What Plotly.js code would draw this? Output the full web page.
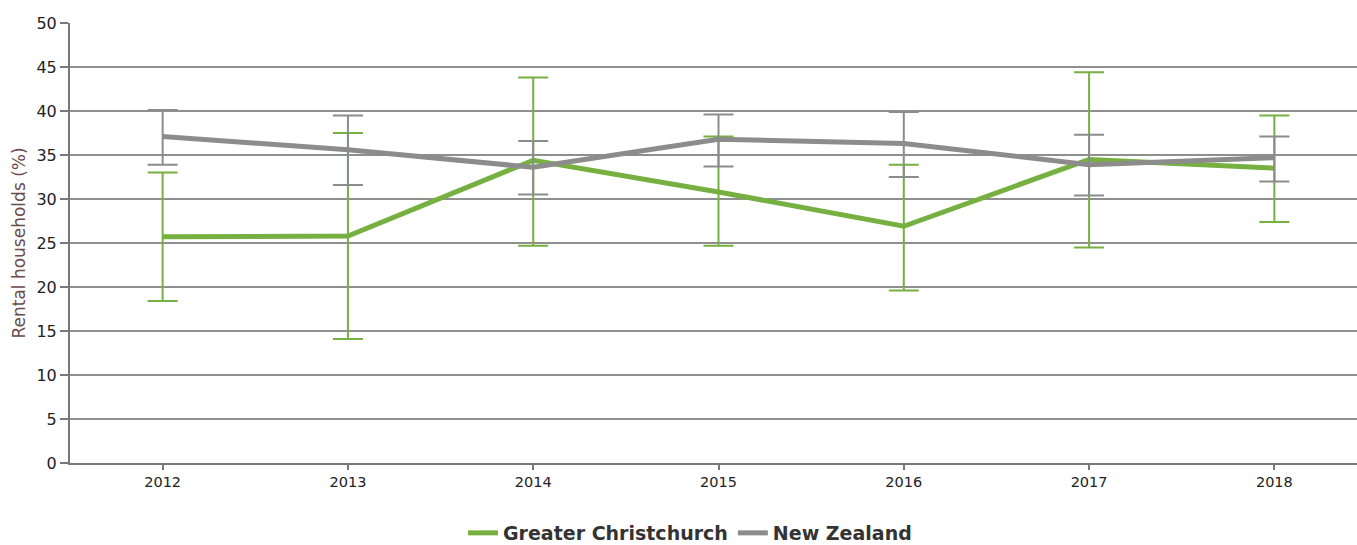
<!DOCTYPE html>
<html>
<head>
<meta charset="utf-8">
<script src="https://cdn.plot.ly/plotly-3.0.1.min.js"></script>
<style>html,body{margin:0;padding:0;background:#fff;}#chart{width:1357px;height:545px;}</style>
</head>
<body>
<div id="chart"></div>
<script>
const years = ['2012', '2013', '2014', '2015', '2016', '2017', '2018'];

const chchValues = [25.7, 25.8, 34.4, 30.8, 26.9, 34.5, 33.5];
const chchUpper  = [33.0, 37.5, 43.8, 37.1, 33.9, 44.4, 39.5];
const chchLower  = [18.4, 14.1, 24.7, 24.7, 19.6, 24.5, 27.4];

const nzValues = [37.1, 35.6, 33.6, 36.8, 36.3, 33.9, 34.7];
const nzUpper  = [40.1, 39.5, 36.6, 39.6, 39.9, 37.3, 37.1];
const nzLower  = [33.9, 31.6, 30.5, 33.7, 32.5, 30.4, 32.0];

const yTicks = [0, 5, 10, 15, 20, 25, 30, 35, 40, 45, 50];

function plus(vals, up) { return up.map((u, i) => +(u - vals[i]).toFixed(2)); }
function minus(vals, lo) { return lo.map((l, i) => +(vals[i] - l).toFixed(2)); }

const green = '#76b041';
const grey = '#8c8c8c';
const FONT = 'DejaVu Sans, Liberation Sans, Arial, sans-serif';

const traces = [
  {
    x: years, y: chchValues, type: 'scatter', mode: 'lines',
    name: 'Greater Christchurch',
    line: {color: green, width: 5},
    error_y: {type: 'data', symmetric: false, array: plus(chchValues, chchUpper),
              arrayminus: minus(chchValues, chchLower), color: green, thickness: 2, width: 15}
  },
  {
    x: years, y: nzValues, type: 'scatter', mode: 'lines',
    name: 'New Zealand',
    line: {color: grey, width: 5},
    error_y: {type: 'data', symmetric: false, array: plus(nzValues, nzUpper),
              arrayminus: minus(nzValues, nzLower), color: grey, thickness: 2, width: 15}
  }
];

const layout = {
  width: 1357, height: 545,
  margin: {l: 70, r: 0, t: 23, b: 82},
  paper_bgcolor: '#ffffff', plot_bgcolor: '#ffffff',
  font: {family: FONT, color: '#222'},
  showlegend: true,
  legend: {orientation: 'h', x: 690 / 1357, xanchor: 'center', xref: 'container',
           y: 12 / 545, yref: 'container', yanchor: 'middle',
           font: {family: FONT, size: 19, color: '#333', weight: 'bold'}, itemwidth: 30},
  xaxis: {
    type: 'category', range: [-0.5, 6.446],
    showgrid: false, zeroline: false,
    showline: true, linecolor: '#777', linewidth: 2,
    ticks: 'outside', ticklen: 5, tickcolor: '#777', tickwidth: 2,
    tickfont: {family: FONT, size: 14.5, color: '#222'}
  },
  yaxis: {
    range: [0, 50], tickvals: yTicks, ticktext: yTicks.map(String),
    showgrid: true, gridcolor: '#8f8f8f', gridwidth: 1.5,
    zeroline: false, showline: true, linecolor: '#777', linewidth: 2,
    ticks: 'outside', ticklen: 8, tickcolor: '#777', tickwidth: 2,
    tickfont: {family: FONT, size: 16, color: '#222'},
    title: {text: 'Rental households (%)', font: {family: FONT, size: 17, color: '#6b4a4a'}, standoff: 6}
  }
};

Plotly.newPlot('chart', traces, layout, {displayModeBar: false, staticPlot: true});
</script>
</body>
</html>
